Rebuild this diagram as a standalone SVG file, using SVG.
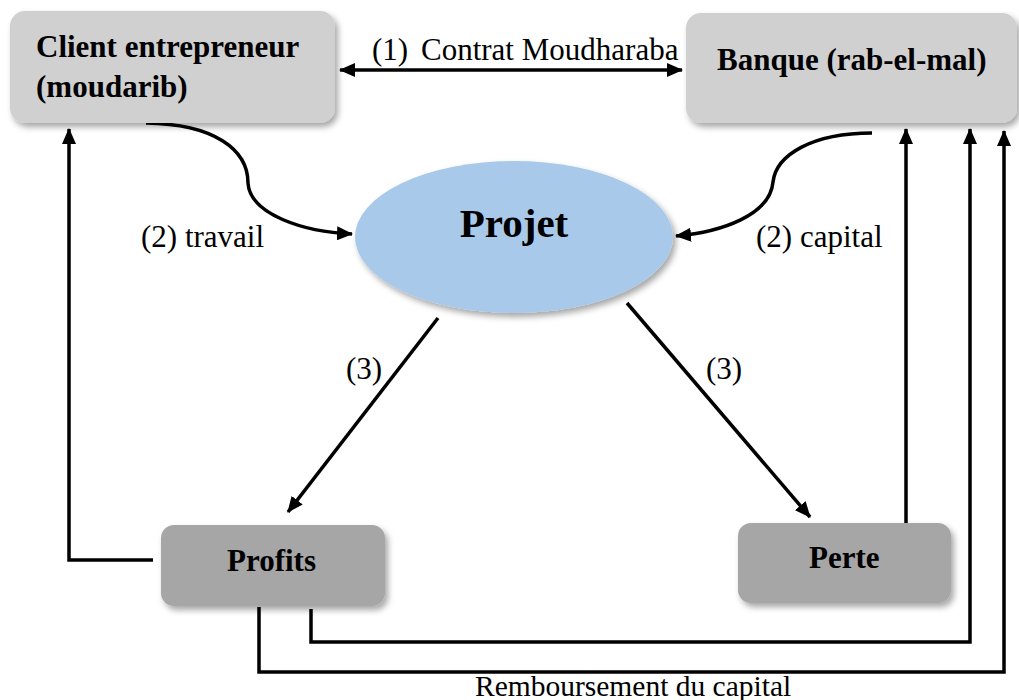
<svg xmlns="http://www.w3.org/2000/svg" width="1019" height="700" viewBox="0 0 1019 700">
  <style>
    .box-light { fill: #d0d0d0; }
    .box-dark { fill: #a6a6a6; }
    .bold { font-family: "Liberation Serif", "Times New Roman", serif; font-weight: bold; font-size: 31px; fill: #000; }
    .label { font-family: "Liberation Serif", "Times New Roman", serif; font-size: 31px; fill: #000; }
    .conn { fill: none; stroke: #000; stroke-width: 3.5; }
  </style>
  <defs>
    <filter id="shadow" x="-10%" y="-10%" width="125%" height="130%">
      <feDropShadow dx="3" dy="4" stdDeviation="3" flood-color="#000" flood-opacity="0.35"/>
    </filter>
    <marker id="ah" markerWidth="16" markerHeight="14" refX="15" refY="7" orient="auto-start-reverse" markerUnits="userSpaceOnUse">
      <path d="M0,0 L16,7 L0,14 z" fill="#000"/>
    </marker>
  </defs>
  <rect width="1019" height="700" fill="#fff"/>

  <g id="connectors">
    <line class="conn" x1="340" y1="70" x2="682" y2="70" marker-start="url(#ah)" marker-end="url(#ah)"/>
    <path class="conn" d="M146,123 C215,124 248,150 248,183 C250,215 305,232 352,234" marker-end="url(#ah)"/>
    <path class="conn" d="M872,133 C812,133 776,155 773,182 C770,215 722,232 676,236" marker-end="url(#ah)"/>
    <line class="conn" x1="438" y1="318" x2="288" y2="512" marker-end="url(#ah)"/>
    <line class="conn" x1="627" y1="303" x2="810" y2="517" marker-end="url(#ah)"/>
    <polyline class="conn" points="153,560 69,560 69,129" marker-end="url(#ah)"/>
    <polyline class="conn" points="906,523 906,129" marker-end="url(#ah)"/>
    <polyline class="conn" points="311,609 311,642 970,642 970,129" marker-end="url(#ah)"/>
    <polyline class="conn" points="259,607 259,672 1004,672 1004,131" marker-end="url(#ah)"/>
  </g>

  <g id="client">
    <rect class="box-light" x="10" y="11" width="325" height="112" rx="15" filter="url(#shadow)"/>
    <text class="bold" x="36" y="57">Client entrepreneur</text>
    <text class="bold" x="36" y="97">(moudarib)</text>
  </g>

  <g id="banque">
    <rect class="box-light" x="686" y="13" width="331" height="110" rx="15" filter="url(#shadow)"/>
    <text class="bold" x="717" y="70">Banque (rab-el-mal)</text>
  </g>

  <g id="projet">
    <ellipse cx="514" cy="237" rx="159" ry="76" fill="#a9c9ea" filter="url(#shadow)"/>
    <text class="bold" x="514" y="237" text-anchor="middle" font-size="41" style="font-size:41px">Projet</text>
  </g>

  <g id="profits">
    <rect class="box-dark" x="161" y="525" width="224" height="81" rx="13" filter="url(#shadow)"/>
    <text class="bold" x="227" y="571">Profits</text>
  </g>

  <g id="perte">
    <rect class="box-dark" x="738" y="523" width="213" height="80" rx="13" filter="url(#shadow)"/>
    <text class="bold" x="809" y="568">Perte</text>
  </g>

  <g id="labels">
    <text class="label" x="372" y="60">(1)</text>
    <text class="label" x="421" y="60">Contrat Moudharaba</text>
    <text class="label" x="141" y="247">(2) travail</text>
    <text class="label" x="756" y="247">(2) capital</text>
    <text class="label" x="346" y="379">(3)</text>
    <text class="label" x="706" y="379">(3)</text>
    <text class="label" x="475" y="696" style="font-size:29.5px">Remboursement du capital</text>
  </g>
</svg>
